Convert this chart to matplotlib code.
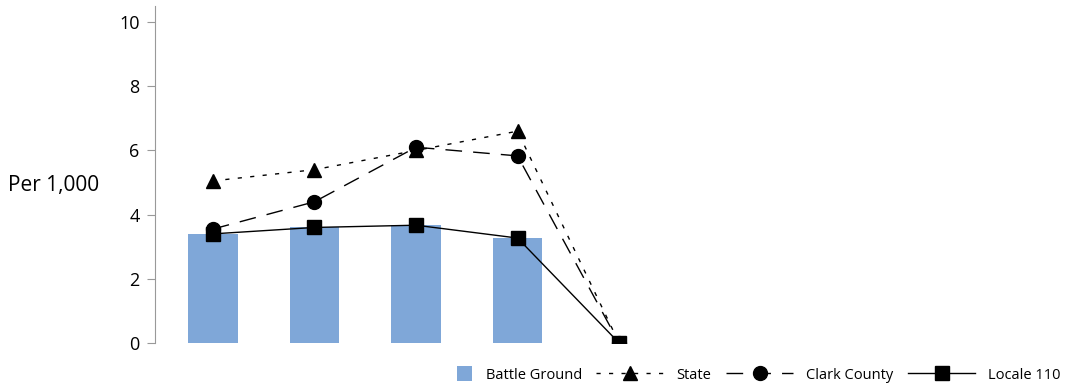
import matplotlib
matplotlib.use("Agg")
import matplotlib.pyplot as plt
from matplotlib.lines import Line2D
from matplotlib.patches import Patch, Rectangle
from matplotlib.legend_handler import HandlerBase

categories = ["A", "B", "C", "D", "E"]
battle_ground = [3.4, 3.6, 3.67, 3.27, 0]
state = [5.05, 5.4, 6.0, 6.6, 0]
clark_county = [3.55, 4.4, 6.1, 5.83, 0]
locale_110 = [3.4, 3.6, 3.67, 3.27, 0]
yticks = [0, 2, 4, 6, 8, 10]

plt.rcParams['font.family'] = ['Open Sans', 'DejaVu Sans']
fig = plt.figure(figsize=(10.74, 3.86), dpi=100)
ax = fig.add_axes([155/1074, 43/386, (677-155)/1074, (343-6)/386])

x = list(range(len(categories)))
bar_color = "#7FA7D8"
ax.bar(x[:4], battle_ground[:4], width=0.49, color=bar_color, zorder=1)

ms = 10
ax.plot(x, state, color="black", lw=1, linestyle=(0, (3, 6)), marker="^", markersize=ms, zorder=3)
ax.plot(x, clark_county, color="black", lw=1, linestyle=(0, (12, 8)), marker="o", markersize=ms, zorder=3)
ax.plot(x, locale_110, color="black", lw=1, linestyle="-", marker="s", markersize=ms, zorder=4)

ax.set_xlim(-0.57, 4.57)
ax.set_ylim(0, 10.5)
ax.set_yticks(yticks)
ax.set_xticks([])
for s in ["top", "right", "bottom"]:
    ax.spines[s].set_visible(False)
ax.spines["left"].set_color("#999999")
ax.tick_params(axis="y", colors="#999999", labelcolor="black", labelsize=13, length=6, pad=5)

fig.text(8/1074, 1 - 186/386, "Per 1,000", fontsize=15, va="center", ha="left")


class SquareHandler(HandlerBase):
    def create_artists(self, legend, orig_handle, xdescent, ydescent, width, height, fontsize, trans):
        s = 11
        r = Rectangle((width - s - xdescent, (height - s) / 2 - ydescent), s, s,
                      facecolor=orig_handle.get_facecolor(), edgecolor="none", transform=trans)
        return [r]


handles = [
    Patch(color=bar_color),
    Line2D([], [], color="black", lw=1, linestyle=(0, (3, 6)), marker="^", markersize=ms),
    Line2D([], [], color="black", lw=1, linestyle=(0, (12, 8)), marker="o", markersize=ms),
    Line2D([], [], color="black", lw=1, linestyle="-", marker="s", markersize=ms),
]
labels = ["Battle Ground", "State", "Clark County", "Locale 110"]
fig.legend(handles, labels, loc="lower right", bbox_to_anchor=(1.0, -0.025), ncol=4,
           frameon=False, fontsize=10.5, handlelength=4.6, handletextpad=0.9,
           columnspacing=1.0, handleheight=1.0, handler_map={Patch: SquareHandler()})

fig.savefig("out.png", dpi=100)
